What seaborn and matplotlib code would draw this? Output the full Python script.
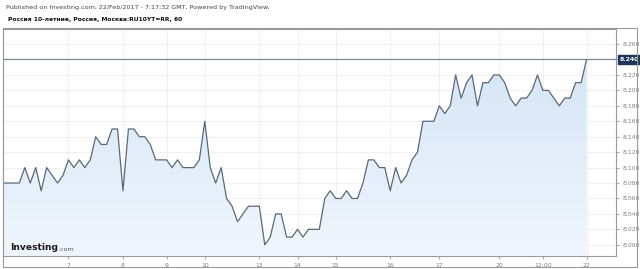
import numpy as np
import pandas as pd
import matplotlib
matplotlib.use("Agg")
import matplotlib.pyplot as plt
import seaborn as sns
from matplotlib.patches import Rectangle
from matplotlib.colors import LinearSegmentedColormap

# ---- data (hourly closes) ----
values = [
    8.08, 8.08, 8.08, 8.08, 8.10, 8.08, 8.10, 8.07, 8.10, 8.09,
    8.08, 8.09, 8.11, 8.10, 8.11, 8.10, 8.11, 8.14, 8.13, 8.13,
    8.15, 8.15, 8.07, 8.15, 8.15, 8.14, 8.14, 8.13, 8.11, 8.11,
    8.11, 8.10, 8.11, 8.10, 8.10, 8.10, 8.11, 8.16, 8.10, 8.08,
    8.10, 8.06, 8.05, 8.03, 8.04, 8.05, 8.05, 8.05, 8.00, 8.01,
    8.04, 8.04, 8.01, 8.01, 8.02, 8.01, 8.02, 8.02, 8.02, 8.06,
    8.07, 8.06, 8.06, 8.07, 8.06, 8.06, 8.08, 8.11, 8.11, 8.10,
    8.10, 8.07, 8.10, 8.08, 8.09, 8.11, 8.12, 8.16, 8.16, 8.16,
    8.18, 8.17, 8.18, 8.22, 8.19, 8.21, 8.22, 8.18, 8.21, 8.21,
    8.22, 8.22, 8.21, 8.19, 8.18, 8.19, 8.19, 8.20, 8.22, 8.20,
    8.20, 8.19, 8.18, 8.19, 8.19, 8.21, 8.21, 8.24,
]
x_labels = ["7", "8", "9", "10", "13", "14", "15", "16", "17", "20", "12:00", "22"]
x_label_bar = [12, 22, 30, 37, 47, 54, 61, 71, 80, 91, 99, 107]
y_ticks = [8.000, 8.020, 8.040, 8.060, 8.080, 8.100, 8.120, 8.140,
           8.160, 8.180, 8.200, 8.220, 8.240, 8.260]
last_value = values[-1]

df = pd.DataFrame({"bar": np.arange(len(values)), "close": values})

sns.set_theme(style="white")
plt.rcParams["font.family"] = ["DejaVu Sans"]

W, H = 640, 269
fig = plt.figure(figsize=(W / 100, H / 100), dpi=100)
fig.patch.set_facecolor("white")

def fx(px):
    return px / W

def fy(py):
    return 1 - py / H

# outer frame
fig.add_artist(Rectangle((fx(3), fy(267)), fx(634), (267 - 28) / H,
                         transform=fig.transFigure, fill=False,
                         edgecolor="#9a9a9a", linewidth=0.8))

ax = fig.add_axes([fx(3), fy(256), fx(616 - 3), (256 - 29) / H])
ax.set_facecolor("white")

y_lo, y_hi = 7.9855, 8.2795
ax.set_xlim(0, 112.4)
ax.set_ylim(y_lo, y_hi)

# grid
for t in y_ticks:
    ax.axhline(t, color="#f1f1f1", lw=0.8, zorder=0)
for t in x_label_bar:
    ax.axvline(t, color="#f1f1f1", lw=0.8, zorder=0)

# gradient fill under the line
poly = ax.fill_between(df["bar"], df["close"], y_lo, color="none", lw=0)
grad = np.linspace(0, 1, 256).reshape(-1, 1)
cmap = LinearSegmentedColormap.from_list("g", ["#f0f6fd", "#d5e5f5"])
img = ax.imshow(grad, cmap=cmap, aspect="auto", origin="lower",
                extent=[0, len(values) - 1, y_lo, max(values)], zorder=1)
img.set_clip_path(poly.get_paths()[0], transform=ax.transData)

sns.lineplot(data=df, x="bar", y="close", ax=ax, color="#5a6978",
             linewidth=0.9, zorder=3)

# last value line
ax.axhline(last_value, color="#7d8c9b", lw=0.9, zorder=2)

ax.set_xlabel("")
ax.set_ylabel("")
ax.yaxis.tick_right()
ax.set_yticks(y_ticks)
ax.set_yticklabels(["" if abs(t - last_value) < 1e-9 else f"{t:.3f}" for t in y_ticks],
                   fontsize=4.4, color="#808080")
ax.set_xticks(x_label_bar)
ax.set_xticklabels(x_labels, fontsize=4.4, color="#808080")
ax.tick_params(axis="both", length=2.5, width=0.6, color="#999999", pad=2.5,
               bottom=True, right=True, left=False)
for s in ax.spines.values():
    s.set_color("#9a9a9a")
    s.set_linewidth(0.8)

# last value tag
ax.annotate(f"{last_value:.3f}", xy=(1.0, last_value), xycoords=("axes fraction", "data"),
            xytext=(2.5, 0), textcoords="offset points", fontsize=4.4, color="white",
            fontweight="bold", va="center", ha="left",
            bbox=dict(boxstyle="square,pad=0.3", fc="#1d3557", ec="#1d3557"),
            annotation_clip=False)

# header texts
fig.text(fx(6), fy(8), "Published on Investing.com, 22/Feb/2017 - 7:17:32 GMT, Powered by TradingView.",
         fontsize=4.6, color="#444444", va="center", ha="left")
fig.text(fx(8), fy(20), "Россия 10-летние, Россия, Москва:RU10YT=RR, 60",
         fontsize=4.3, color="#111111", fontweight="bold", va="center", ha="left")

# logo
logo = fig.text(fx(10), fy(250), "Investing", fontsize=6.6, fontweight="bold",
                color="#1a1a1a", va="baseline", ha="left")
fig.text(0, 0, "")
ax.annotate(".com", xy=(1, 0), xycoords=logo, xytext=(0.3, 0), textcoords="offset points",
            fontsize=4.6, color="#555555", va="bottom", ha="left", annotation_clip=False)

fig.savefig("out.png", dpi=100)
